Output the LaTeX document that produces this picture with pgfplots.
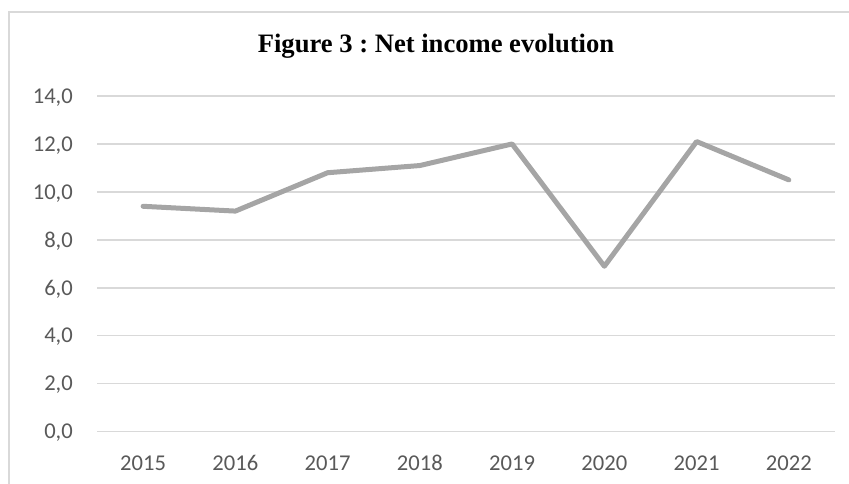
\documentclass[border=0pt]{standalone}
\usepackage{pgfplots}
\pgfplotsset{compat=1.18}
\usepackage{fontspec}
\setmainfont{Carlito}
\newfontfamily\titlefont{Liberation Serif}
\definecolor{linegray}{HTML}{A5A5A5}
\definecolor{gridgray}{HTML}{D9D9D9}
\definecolor{textgray}{HTML}{595959}
\begin{document}
\begin{tikzpicture}
\path[use as bounding box] (0,0) rectangle (849bp,484bp);
\draw[gridgray, line width=1.7bp] (8.7bp,0) -- (8.7bp,471.8bp) -- (849bp,471.8bp);
\node[anchor=base, font=\titlefont\bfseries\fontsize{26.6bp}{32bp}\selectfont, inner sep=0pt] at (436bp,431.3bp) {\frenchspacing Figure 3 : Net income evolution};
\begin{axis}[
 at={(97bp,52.3bp)}, anchor=south west,
 scale only axis, width=738bp, height=335.7bp,
 xmin=-0.5, xmax=7.5, ymin=0, ymax=14,
 xtick={0,...,7}, xticklabels={2015,2016,2017,2018,2019,2020,2021,2022},
 ytick={0,2,...,14},
 axis line style={draw=none},
 major tick length=0pt,
 ymajorgrids, grid style={gridgray, line width=1.4bp},
 tick label style={font=\fontsize{22.6bp}{27bp}\selectfont, text=textgray, inner sep=0pt},
 yticklabel style={anchor=base east, xshift=-24bp, yshift=-7.2bp},
 xticklabel style={anchor=base, yshift=-39bp},
 /pgf/number format/.cd, fixed, fixed zerofill, precision=1, use comma, assume math mode=true,
]
\addplot[linegray, line width=5bp, line join=round, line cap=round, mark=none]
 coordinates {(0,9.4)(1,9.2)(2,10.8)(3,11.1)(4,12.0)(5,6.9)(6,12.1)(7,10.5)};
\end{axis}
\end{tikzpicture}
\end{document}
